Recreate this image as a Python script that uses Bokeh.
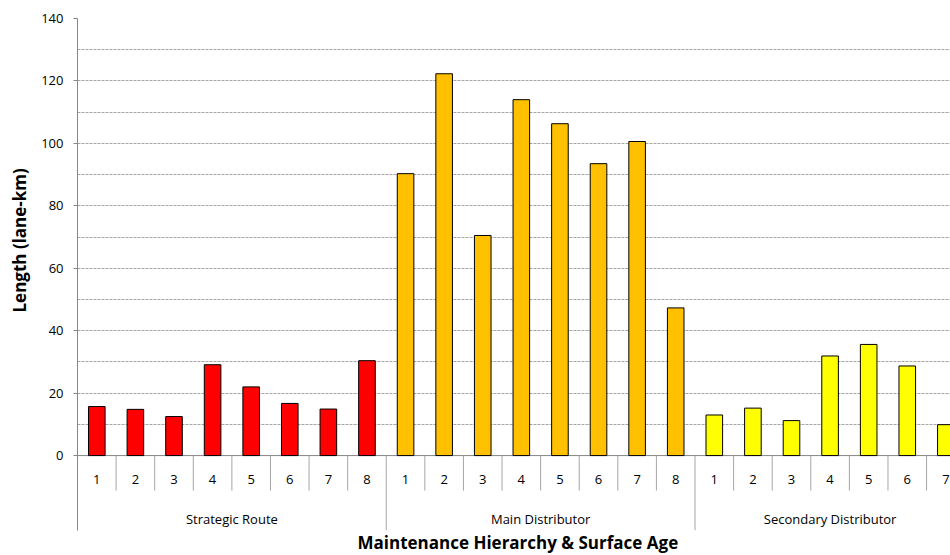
from bokeh.plotting import figure
from bokeh.models import Range1d, FixedTicker, ColumnDataSource, Title
from bokeh.embed import file_html
from bokeh.resources import INLINE
from bokeh.core.properties import value

# ---- data ----
groups = ["Strategic Route", "Main Distributor", "Secondary Distributor"]
strategic_ages = ["1", "2", "3", "4", "5", "6", "7", "8"]
main_ages = ["1", "2", "3", "4", "5", "6", "7", "8"]
secondary_ages = ["1", "2", "3", "4", "5", "6", "7"]
strategic = [15.7, 14.8, 12.5, 29.1, 22.0, 16.7, 14.9, 30.4]
main = [90.3, 122.3, 70.5, 114.0, 106.3, 93.5, 100.6, 47.3]
secondary = [13.0, 15.2, 11.2, 31.9, 35.6, 28.7, 9.9]
group_colors = ["#FF0000", "#FFC000", "#FFFF00"]
y_ticks = [0, 20, 40, 60, 80, 100, 120, 140]
grid_ticks = [10, 20, 30, 40, 50, 60, 70, 80, 90, 100, 110, 120, 130, 140]

FONT = "Open Sans"
Y_MIN, Y_MAX = -24.0, 140.0
ROW1 = -11.2   # bottom of short separators
ROW1_TXT = -7.7
ROW2_TXT = -20.2

series = [strategic_ages, main_ages, secondary_ages]
vals = [strategic, main, secondary]

xs, tops, cols, nums = [], [], [], []
sep_x, sep_y1 = [], []
grp_x, grp_names = [], []
offset = 0
for gi, (ages, v) in enumerate(zip(series, vals)):
    grp_x.append(offset + len(ages) / 2)
    grp_names.append(groups[gi])
    sep_x.append(offset)
    sep_y1.append(Y_MIN)
    for i, (a, val) in enumerate(zip(ages, v)):
        xs.append(offset + i + 0.5)
        tops.append(val)
        cols.append(group_colors[gi])
        nums.append(a)
        if i > 0:
            sep_x.append(offset + i)
            sep_y1.append(ROW1)
    offset += len(ages)
sep_x.append(offset)
sep_y1.append(Y_MIN)

p = figure(width=950, height=555, output_backend="svg", toolbar_location=None,
           x_range=Range1d(0, 22.62), y_range=Range1d(Y_MIN, Y_MAX),
           min_border_left=77, min_border_top=18, min_border_right=0,
           min_border_bottom=25)
p.outline_line_color = None
p.background_fill_color = "white"
p.border_fill_color = "white"

# grid
p.xgrid.visible = False
p.ygrid.ticker = FixedTicker(ticks=grid_ticks)
p.ygrid.grid_line_color = "#A6A6A6"
p.ygrid.grid_line_dash = "3 1"
p.ygrid.grid_line_width = 1

# y axis
p.yaxis.ticker = FixedTicker(ticks=y_ticks)
p.yaxis.axis_line_color = "#868686"
p.yaxis.major_tick_line_color = "#868686"
p.yaxis.major_tick_out = 4
p.yaxis.major_tick_in = 0
p.yaxis.minor_tick_line_color = None
p.yaxis.major_label_text_font = FONT
p.yaxis.major_label_text_font_size = "13px"
p.yaxis.major_label_text_color = "#000000"
p.yaxis.major_label_standoff = 10

p.xaxis.visible = False

# axis titles
p.add_layout(Title(text="Length (lane-km)", align="left", offset=218, standoff=13,
                   vertical_align="middle",
                   text_font=FONT, text_font_size="17px", text_font_style="bold",
                   text_color="#000000"), "left")
p.add_layout(Title(text="Maintenance Hierarchy & Surface Age", align="left", offset=280,
                   vertical_align="top", standoff=0,
                   text_font=FONT, text_font_size="17px", text_font_style="bold",
                   text_color="#000000"), "below")

# category axis line and separators
p.segment(x0=[0], y0=[0], x1=[offset], y1=[0], line_color="#868686", line_width=1)
p.segment(x0=sep_x, y0=[0] * len(sep_x), x1=sep_x, y1=sep_y1,
          line_color="#A6A6A6", line_width=1)

# bars
src = ColumnDataSource(dict(x=xs, top=tops, color=cols, num=nums))
p.vbar(x="x", top="top", bottom=0, width=0.43, source=src,
       fill_color="color", line_color="#000000", line_width=1)

# category labels
p.text(x="x", y=ROW1_TXT, text="num", source=src, text_font=value(FONT),
       text_font_size="13px", text_align="center", text_baseline="middle",
       text_color="#000000")
gsrc = ColumnDataSource(dict(x=grp_x, name=grp_names))
p.text(x="x", y=ROW2_TXT, text="name", source=gsrc, text_font=value(FONT),
       text_font_size="13px", text_align="center", text_baseline="middle",
       text_color="#000000")

open("out.html", "w").write(file_html(p, INLINE))
